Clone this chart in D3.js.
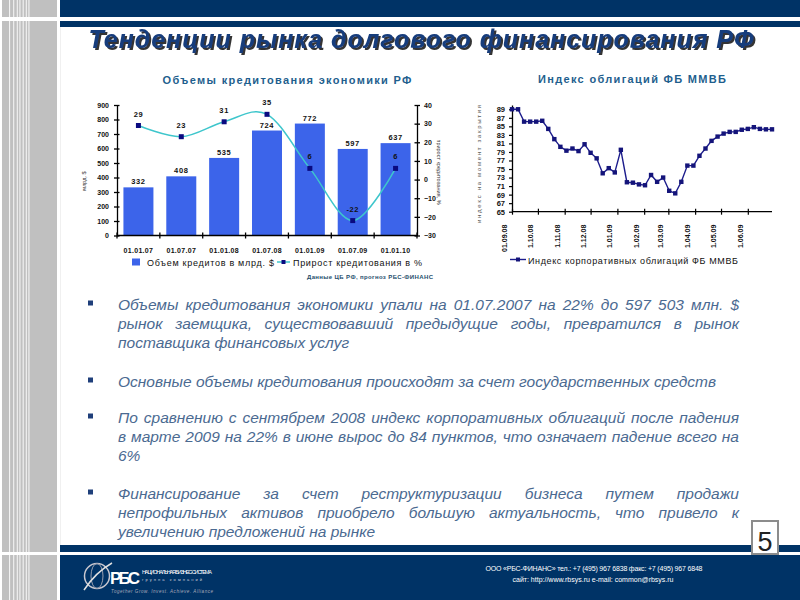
<!DOCTYPE html>
<html>
<head>
<meta charset="utf-8">
<script src="https://cdn.jsdelivr.net/npm/d3@7/dist/d3.min.js"></script>
<style>
  body { margin: 0; background: #fff; }
  svg { display: block; font-family: "Liberation Sans", Arial, sans-serif; }
</style>
</head>
<body>
<svg id="slide" width="800" height="600"></svg>
<script>
// --- data: credit volumes (left chart)
const creditDates = ["01.01.07", "01.07.07", "01.01.08", "01.07.08", "01.01.09", "01.07.09", "01.01.10"];
const creditVolume = [332, 408, 535, 724, 772, 597, 637];
const creditGrowth = [29, 23, 31, 35, 6, -22, 6];
const volumeTicks = [0, 100, 200, 300, 400, 500, 600, 700, 800, 900];
const growthTicks = [-30, -20, -10, 0, 10, 20, 30, 40];

// --- data: MICEX corporate bond index, weekly from 01.09.08 (right chart)
const bondIndex = [89.0, 89.0, 86.1, 86.1, 86.1, 86.3, 84.4, 82.0, 80.2, 79.3, 79.8,
  79.2, 80.8, 78.8, 77.5, 74.0, 75.2, 74.2, 79.5, 71.9, 71.8, 71.4,
  71.2, 73.6, 72.0, 73.0, 69.9, 69.3, 72.0, 75.8, 75.8, 78.1, 79.8,
  81.6, 82.6, 83.3, 83.7, 83.7, 84.2, 84.4, 84.8, 84.4, 84.3, 84.3];
const bondTickLabels = ["01.09.08", "1.10.08", "1.11.08", "1.12.08", "1.01.09",
  "1.02.09", "1.03.09", "1.04.09", "1.05.09", "1.06.09"];
const bondYTicks = [65, 67, 69, 71, 73, 75, 77, 79, 81, 83, 85, 87, 89];

const bullets = [
  ["Объемы кредитования экономики упали на 01.07.2007 на 22% до 597 503 млн. $",
   "рынок заемщика, существовавший предыдущие годы, превратился в рынок",
   "поставщика финансовых услуг"],
  ["Основные объемы кредитования происходят за счет государственных средств"],
  ["По сравнению с сентябрем 2008 индекс корпоративных облигаций после падения",
   "в марте 2009 на 22% в июне вырос до 84 пунктов, что означает падение всего на",
   "6%"],
  ["Финансирование за счет реструктуризации бизнеса путем продажи",
   "непрофильных активов приобрело большую актуальность, что привело к",
   "увеличению предложений на рынке"]
];

const svg = d3.select("#slide");
const navy = "#003366";

const defs = svg.append("defs");
const shadow = defs.append("filter").attr("id", "titleShadow")
  .attr("x", "-5%").attr("y", "-20%").attr("width", "110%").attr("height", "150%");
shadow.append("feDropShadow").attr("dx", 2).attr("dy", 2).attr("stdDeviation", 0.4)
  .attr("flood-color", "#1a1a1a").attr("flood-opacity", 0.9);

// ---------- slide frame ----------
svg.append("rect").attr("x", 0).attr("y", 0).attr("width", 57).attr("height", 600).attr("fill", "#c0c0c0");
[0, 9.2, 13.3, 16.8, 19.5, 22.7, 25.8, 28.5].forEach(x => {
  svg.append("rect").attr("x", x).attr("y", 0).attr("width", x === 0 ? 2 : 0.9).attr("height", 600).attr("fill", "#fff");
});
svg.append("line").attr("x1", 60.5).attr("x2", 60.5).attr("y1", 27).attr("y2", 545)
  .attr("stroke", "#f0f0f0").attr("stroke-width", 1);

svg.append("rect").attr("x", 60).attr("y", 0).attr("width", 740).attr("height", 17).attr("fill", navy);
svg.append("rect").attr("x", 60).attr("y", 21).attr("width", 740).attr("height", 6).attr("fill", navy);
svg.append("rect").attr("x", 0).attr("y", 17).attr("width", 57).attr("height", 4).attr("fill", "#fff");

svg.append("rect").attr("x", 60).attr("y", 545).attr("width", 740).attr("height", 7).attr("fill", navy);
svg.append("rect").attr("x", 60).attr("y", 555).attr("width", 740).attr("height", 45).attr("fill", navy);
svg.append("rect").attr("x", 0).attr("y", 552).attr("width", 57).attr("height", 3).attr("fill", "#fff");

// title with shadow
svg.append("text").attr("x", 421).attr("y", 48).attr("text-anchor", "middle")
  .attr("font-size", 25).attr("font-weight", "bold").attr("font-style", "italic")
  .attr("fill", "#163c7c").attr("textLength", 665).attr("filter", "url(#titleShadow)")
  .text("Тенденции рынка долгового финансирования РФ");

// ---------- left chart: credit volumes ----------
const L = { left: 117, right: 417, top: 105, bottom: 235.5 };
const titleColor = "#1f5f8e";

svg.append("text").attr("x", 287).attr("y", 84).attr("text-anchor", "middle")
  .attr("font-size", 11).attr("font-weight", "bold").attr("fill", titleColor)
  .attr("textLength", 249).text("Объемы кредитования экономики РФ");

const xL = d3.scaleBand().domain(creditDates).range([L.left, L.right])
  .paddingInner(0.3).paddingOuter(0.15);
const yVol = d3.scaleLinear().domain([0, 900]).range([L.bottom, L.top]);
const yGr = d3.scaleLinear().domain([-30, 40]).range([L.bottom, L.top]);

const left = svg.append("g");

left.selectAll(".bar").data(creditVolume).enter().append("rect")
  .attr("x", (d, i) => xL(creditDates[i]))
  .attr("y", d => yVol(d))
  .attr("width", xL.bandwidth())
  .attr("height", d => yVol(0) - yVol(d))
  .attr("fill", "#3c64ea");

left.selectAll(".barLabel").data(creditVolume).enter().append("text")
  .attr("x", (d, i) => xL(creditDates[i]) + xL.bandwidth() / 2)
  .attr("y", d => yVol(d) - 3)
  .attr("text-anchor", "middle").attr("font-size", 7.5).attr("font-weight", "bold")
  .attr("letter-spacing", 0.6).attr("fill", "#111").text(d => d);

// axes
const axL = left.append("g").attr("transform", `translate(${L.left},0)`)
  .call(d3.axisLeft(yVol).tickValues(volumeTicks).tickSize(3).tickSizeOuter(0).tickPadding(5));
axL.selectAll(".tick line").attr("x1", 2.5);
const axR = left.append("g").attr("transform", `translate(${L.right},0)`)
  .call(d3.axisRight(yGr).tickValues(growthTicks).tickSize(3).tickSizeOuter(0).tickPadding(4));
axR.selectAll(".tick line").attr("x1", -2.5);
[axL, axR].forEach(a => {
  a.select(".domain").attr("stroke", "#000").attr("stroke-width", 1.3);
  a.selectAll(".tick line").attr("stroke", "#000").attr("stroke-width", 1.3);
  a.selectAll(".tick text").attr("font-size", 7).attr("font-weight", "bold")
    .attr("font-family", "Liberation Sans, Arial").attr("fill", "#111");
});

const axB = left.append("g").attr("transform", `translate(0,${L.bottom})`)
  .call(d3.axisBottom(xL).tickSize(0).tickSizeOuter(0).tickPadding(13));
axB.select(".domain").attr("stroke", "#000").attr("stroke-width", 1.3)
  .attr("d", `M${L.left},0H${L.right}`);
axB.selectAll(".tick text").attr("font-size", 7).attr("font-weight", "bold")
  .attr("letter-spacing", 0.3).attr("font-family", "Liberation Sans, Arial").attr("fill", "#111");
const boundaries = creditDates.map(d => xL(d) - (xL.step() - xL.bandwidth()) / 2)
  .concat([xL(creditDates[creditDates.length - 1]) + xL.bandwidth() + (xL.step() - xL.bandwidth()) / 2]);
axB.selectAll(".bound").data(boundaries).enter().append("line")
  .attr("x1", d => d).attr("x2", d => d).attr("y1", -3).attr("y2", 3)
  .attr("stroke", "#000").attr("stroke-width", 1.3);

// growth line
const growthPts = creditGrowth.map((v, i) => [xL(creditDates[i]) + xL.bandwidth() / 2, yGr(v)]);
left.append("path").attr("d", d3.line().curve(d3.curveCardinal)(growthPts))
  .attr("fill", "none").attr("stroke", "#3ec6cc").attr("stroke-width", 1.5);
left.selectAll(".gm").data(growthPts).enter().append("rect")
  .attr("x", d => d[0] - 2.5).attr("y", d => d[1] - 2.5).attr("width", 5).attr("height", 5)
  .attr("fill", "#0a0a80");
left.selectAll(".gl").data(creditGrowth).enter().append("text")
  .attr("x", (d, i) => growthPts[i][0])
  .attr("y", (d, i) => growthPts[i][1] - 9)
  .attr("text-anchor", "middle").attr("font-size", 7.5).attr("font-weight", "bold")
  .attr("letter-spacing", 0.6).attr("fill", "#111").text(d => d);

// axis titles (tiny, rotated)
left.append("text").attr("transform", "translate(86,181) rotate(-90)")
  .attr("text-anchor", "middle").attr("font-size", 5.5).attr("fill", "#333").text("млрд. $");
left.append("text").attr("transform", "translate(437,172) rotate(90)")
  .attr("text-anchor", "middle").attr("font-size", 5.5).attr("fill", "#333")
  .text("прирост кредитования, %");

// legend
left.append("rect").attr("x", 132).attr("y", 258.5).attr("width", 8).attr("height", 7).attr("fill", "#3c64ea");
left.append("text").attr("x", 147).attr("y", 266).attr("font-size", 9).attr("fill", "#111")
  .attr("textLength", 127).text("Объем кредитов в млрд. $");
left.append("line").attr("x1", 277).attr("x2", 290).attr("y1", 262).attr("y2", 262)
  .attr("stroke", "#3ec6cc").attr("stroke-width", 1.5);
left.append("rect").attr("x", 281.5).attr("y", 260).attr("width", 4).attr("height", 4).attr("fill", "#0a0a80");
left.append("text").attr("x", 293).attr("y", 266).attr("font-size", 9).attr("fill", "#111")
  .attr("textLength", 129).text("Прирост кредитования в %");
left.append("text").attr("x", 307).attr("y", 279).attr("font-size", 6).attr("font-weight", "bold")
  .attr("fill", "#1e4d6b").attr("textLength", 126).text("Данные ЦБ РФ, прогноз РБС-ФИНАНС");

// ---------- right chart: bond index ----------
const R = { left: 512, right: 772, top: 105, bottom: 211.7 };
svg.append("text").attr("x", 632).attr("y", 83).attr("text-anchor", "middle")
  .attr("font-size", 11).attr("font-weight", "bold").attr("fill", titleColor)
  .attr("textLength", 188).text("Индекс облигаций ФБ ММВБ");

const start = new Date(2008, 8, 1);
const bondDates = bondIndex.map((v, i) => d3.timeDay.offset(start, 7 * i));
const xT = d3.scaleTime().domain(d3.extent(bondDates)).range([R.left, R.right]);
const yB = d3.scaleLinear().domain([65, 90]).range([R.bottom, R.top]);

const right = svg.append("g");
const monthTicks = d3.timeMonth.range(start, bondDates[bondDates.length - 1]);

const ayB = right.append("g").attr("transform", `translate(${R.left},0)`)
  .call(d3.axisLeft(yB).tickValues(bondYTicks).tickSize(3).tickSizeOuter(0).tickPadding(4));
ayB.select(".domain").attr("stroke", "#000").attr("stroke-width", 1.3);
ayB.selectAll(".tick line").attr("stroke", "#000").attr("stroke-width", 1.2);
ayB.selectAll(".tick text").attr("font-size", 7.5).attr("font-weight", "bold")
  .attr("font-family", "Liberation Sans, Arial").attr("fill", "#111");

const axT = right.append("g").attr("transform", `translate(0,${R.bottom})`)
  .call(d3.axisBottom(xT).tickValues(monthTicks).tickSize(3).tickSizeOuter(0)
    .tickFormat((d, i) => bondTickLabels[i]));
axT.select(".domain").attr("stroke", "#000").attr("stroke-width", 1.3)
  .attr("d", `M${R.left},0H${R.right}`);
axT.selectAll(".tick line").attr("y1", -3).attr("stroke", "#000").attr("stroke-width", 1.2);
axT.selectAll(".tick text").attr("x", 0).attr("y", 0).attr("dy", 0)
  .attr("transform", "translate(-5.5,13) rotate(-90)").attr("text-anchor", "end")
  .attr("font-size", 7).attr("font-weight", "bold")
  .attr("font-family", "Liberation Sans, Arial").attr("fill", "#111");

right.append("path")
  .attr("d", d3.line().x((d, i) => xT(bondDates[i])).y(d => yB(d))(bondIndex))
  .attr("fill", "none").attr("stroke", "#1c1c8c").attr("stroke-width", 1.4);
right.selectAll(".bm").data(bondIndex).enter().append("rect")
  .attr("x", (d, i) => xT(bondDates[i]) - 2.2).attr("y", d => yB(d) - 2.2)
  .attr("width", 4.4).attr("height", 4.4).attr("fill", "#14147a");

right.append("text").attr("transform", "translate(481,164) rotate(-90)")
  .attr("text-anchor", "middle").attr("font-size", 6).attr("fill", "#555")
  .attr("textLength", 118).text("индекс на момент закрытия");

right.append("line").attr("x1", 510).attr("x2", 526).attr("y1", 259.5).attr("y2", 259.5)
  .attr("stroke", "#1c1c8c").attr("stroke-width", 1.4);
right.append("rect").attr("x", 516).attr("y", 257.5).attr("width", 4).attr("height", 4).attr("fill", "#14147a");
right.append("text").attr("x", 528).attr("y", 264).attr("font-size", 9).attr("fill", "#111")
  .attr("textLength", 210).text("Индекс корпоративных облигаций ФБ ММВБ");

// ---------- bullets ----------
const textColor = "#4b6a91";
const lineBaselines = [[310, 329, 348], [387], [423, 442, 461], [499, 518, 537]];
const textLeft = 118, textRight = 739;
const body = svg.append("g").attr("font-size", 15.5).attr("font-style", "italic").attr("fill", textColor);

function placeLine(str, y, justify) {
  if (!justify) {
    body.append("text").attr("x", textLeft).attr("y", y).text(str);
    return;
  }
  const words = str.split(" ");
  const nodes = words.map(w => body.append("text").attr("y", y).text(w));
  const widths = nodes.map(n => n.node().getComputedTextLength());
  const gap = (textRight - textLeft - d3.sum(widths)) / (words.length - 1);
  let x = textLeft;
  nodes.forEach((n, i) => { n.attr("x", x); x += widths[i] + gap; });
}

bullets.forEach((lines, b) => {
  body.append("rect").attr("x", 88).attr("y", lineBaselines[b][0] - 9.5).attr("width", 5).attr("height", 5)
    .attr("fill", "#1f3f7a");
  lines.forEach((ln, i) => placeLine(ln, lineBaselines[b][i], i < lines.length - 1));
});

// page number
svg.append("rect").attr("x", 752).attr("y", 521).attr("width", 26).attr("height", 33)
  .attr("fill", "#fff").attr("stroke", "#8c8c8c").attr("stroke-width", 2);
svg.append("text").attr("x", 765).attr("y", 551).attr("text-anchor", "middle")
  .attr("font-size", 27).attr("fill", "#222").text("5");

// ---------- footer ----------
const logo = svg.append("g");
logo.append("circle").attr("cx", 97).attr("cy", 576).attr("r", 12.5)
  .attr("fill", "none").attr("stroke", "#c8c8d0").attr("stroke-width", 1.5);
logo.append("ellipse").attr("cx", 97).attr("cy", 576).attr("rx", 6).attr("ry", 12.5)
  .attr("fill", "none").attr("stroke", "#9aa0b0").attr("stroke-width", 1);
logo.append("path").attr("d", "M84,590 Q96,572 112,563").attr("fill", "none")
  .attr("stroke", "#e0e0e0").attr("stroke-width", 1.5);
logo.append("text").attr("x", 110).attr("y", 584).attr("font-size", 17).attr("font-weight", "bold")
  .attr("fill", "#fff").attr("textLength", 30).text("РБС");
logo.append("text").attr("x", 142).attr("y", 574).attr("font-size", 5.5).attr("fill", "#fff")
  .attr("textLength", 70).text("НАЦИОНАЛЬНАЯ БИЗНЕС-СИСТЕМА");
logo.append("text").attr("x", 142).attr("y", 581).attr("font-size", 4).attr("fill", "#ccd")
  .attr("textLength", 60).text("группа компаний");
logo.append("text").attr("x", 111).attr("y", 593).attr("font-size", 4.5).attr("font-style", "italic")
  .attr("fill", "#aab").attr("textLength", 102).text("Together Grow. Invest. Achieve. Alliance");

svg.append("text").attr("x", 594).attr("y", 571).attr("text-anchor", "middle")
  .attr("font-size", 7).attr("fill", "#fff").attr("textLength", 217)
  .text("ООО «РБС-ФИНАНС» тел.: +7 (495) 967 6838 факс: +7 (495) 967 6848");
svg.append("text").attr("x", 593).attr("y", 582).attr("text-anchor", "middle")
  .attr("font-size", 7).attr("fill", "#fff").attr("textLength", 161)
  .text("сайт: http://www.rbsys.ru  e-mail: common@rbsys.ru");
</script>
</body>
</html>
